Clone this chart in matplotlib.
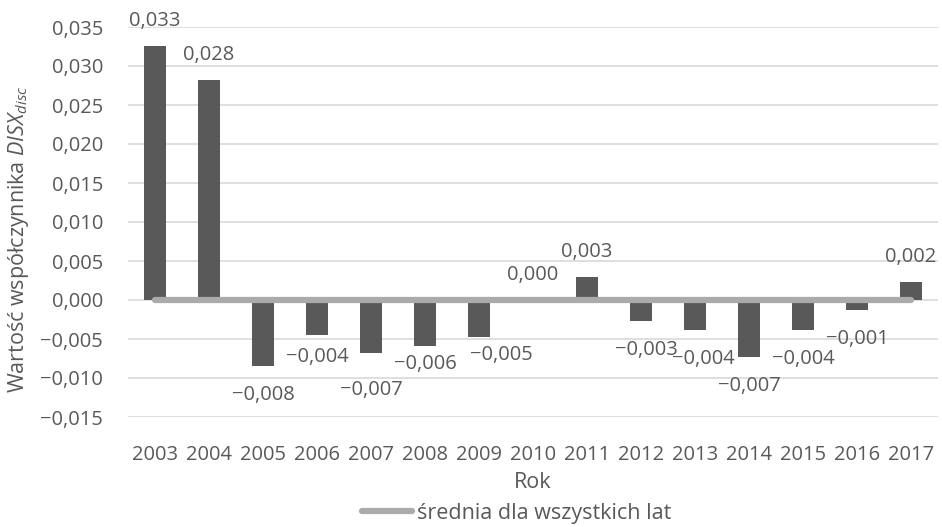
import matplotlib
matplotlib.use("Agg")
import matplotlib.pyplot as plt
from matplotlib.ticker import FuncFormatter, MultipleLocator
from matplotlib.lines import Line2D

plt.rcParams['font.family'] = ['Open Sans', 'DejaVu Sans']
plt.rcParams['mathtext.fontset'] = 'custom'
plt.rcParams['mathtext.rm'] = 'Open Sans'
plt.rcParams['mathtext.it'] = 'Open Sans:italic'

years = ["2003", "2004", "2005", "2006", "2007", "2008", "2009", "2010",
         "2011", "2012", "2013", "2014", "2015", "2016", "2017"]
disx = [0.0326, 0.0282, -0.0084, -0.0045, -0.0068, -0.0059, -0.0048, 0.0000,
        0.0029, -0.0027, -0.0039, -0.0073, -0.0038, -0.0013, 0.0023]
mean_all = [0.0] * len(years)

text_col = "#595959"
bar_col = "#595959"
line_col = "#ABABAB"
grid_col = "#D9D9D9"
FS_NUM = 14.5
FS_YEAR = 14.5
FS_TXT = 15.5

# label placement (pixel offsets of label centre from bar end)
label_dy = {"2006": -22, "2007": -37, "2008": -18, "2009": -18}
label_dx = {"2009": 22, "2012": 5, "2013": 8}


def fmt(v):
    s = f"{abs(v):.3f}".replace(".", ",")
    return ("\u2212" + s) if v < -1e-9 else s


fig = plt.figure(figsize=(9.42, 5.27), dpi=100)
ax = fig.add_axes([128 / 942, 1 - 417 / 527, 810 / 942, 390 / 527])

x = list(range(len(years)))
ax.bar(x, disx, width=0.4, color=bar_col, zorder=2)
ax.plot(x, mean_all, color=line_col, lw=4.5, solid_capstyle='round', zorder=3)

for xi, yr, v in zip(x, years, disx):
    dy = label_dy.get(yr, 25 if v >= 0 else -29)
    dx = label_dx.get(yr, 0)
    ax.annotate(fmt(v), (xi, v), xytext=(dx, dy), textcoords='offset pixels',
                ha='center', va='center', fontsize=FS_NUM, color=text_col,
                zorder=4)

ax.set_xlim(-0.5, len(years) - 0.5)
ax.set_ylim(-0.015, 0.035)
ax.yaxis.set_major_locator(MultipleLocator(0.005))
ax.yaxis.set_major_formatter(FuncFormatter(lambda v, p: fmt(round(v, 4))))
ax.set_xticks(x)
ax.set_xticklabels(years)
ax.tick_params(axis='both', length=0, colors=text_col)
ax.tick_params(axis='x', pad=20, labelsize=FS_YEAR)
ax.tick_params(axis='y', pad=18, labelsize=FS_NUM)
ax.grid(axis='y', color=grid_col, lw=1.2, zorder=0)
ax.set_axisbelow(True)
for s in ax.spines.values():
    s.set_visible(False)

fig.text(533 / 942, 1 - 482 / 527, "Rok", fontsize=FS_TXT, color=text_col,
         ha='center', va='center')
fig.text(19 / 942, 1 - 239 / 527,
         r"Wartość współczynnika $\mathit{DISX}_{\mathit{disc}}$",
         fontsize=FS_TXT, color=text_col, rotation=90,
         ha='center', va='center')

handle = Line2D([], [], color=line_col, lw=4.5, solid_capstyle='round')
fig.legend([handle], ["średnia dla wszystkich lat"], loc='center',
           bbox_to_anchor=(517 / 942, 1 - 513 / 527), frameon=False,
           fontsize=FS_TXT, labelcolor=text_col, handlelength=2.3,
           handletextpad=0.25)

fig.savefig("out.png", dpi=100)
